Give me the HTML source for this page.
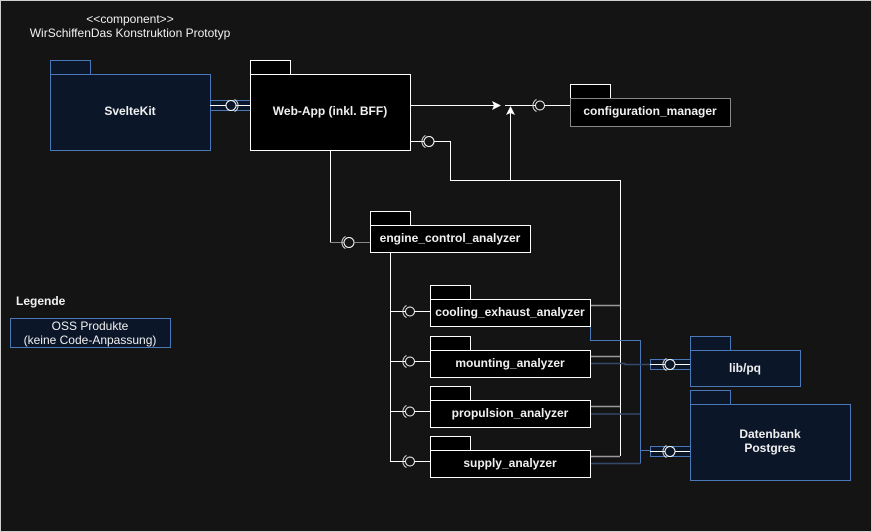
<!DOCTYPE html>
<html><head><meta charset="utf-8"><style>
html,body{margin:0;padding:0;background:#141414}
svg{display:block}
text{font-family:"Liberation Sans",sans-serif;fill:#f0f0f0}
.b{font-weight:bold;font-size:12px}
</style></head><body>
<svg width="872" height="532" viewBox="0 0 872 532" xmlns="http://www.w3.org/2000/svg">
<rect x="0.5" y="0.5" width="871" height="531" fill="#141414" stroke="#cfcfcf"/>
<text x="130" y="23" text-anchor="middle" font-size="12">&lt;&lt;component&gt;&gt;</text>
<text x="130" y="37" text-anchor="middle" font-size="12">WirSchiffenDas Konstruktion Prototyp</text>

<!-- SvelteKit -->
<rect x="50.5" y="60.5" width="40" height="14" fill="#0b1629" stroke="#4a78b8"/>
<rect x="50.5" y="74.5" width="160" height="76" fill="#0b1629" stroke="#4a78b8"/>
<text x="130" y="115" text-anchor="middle" class="b">SvelteKit</text>
<rect x="210.5" y="100.5" width="40" height="10" fill="#0b1629" stroke="#4a78b8"/>
<line x1="210" y1="105.5" x2="250" y2="105.5" stroke="#fff"/>
<circle cx="231" cy="105.5" r="5" fill="#0b1629" stroke="#fff"/>
<path d="M234.5 99.4 A7 7 0 0 1 234.5 111.6" fill="none" stroke="#ddd"/>

<!-- Web-App -->
<rect x="250.5" y="60.5" width="40" height="14" fill="#000" stroke="#fff"/>
<rect x="250.5" y="74.5" width="160" height="76" fill="#000" stroke="#fff"/>
<text x="330" y="115" text-anchor="middle" class="b">Web-App (inkl. BFF)</text>

<!-- to config -->
<line x1="410" y1="105.5" x2="495" y2="105.5" stroke="#fff"/>
<path d="M501 105.5 L492 101 L494 105.5 L492 110 Z" fill="#fff"/>
<line x1="505" y1="105.5" x2="535" y2="105.5" stroke="#fff"/>
<circle cx="540" cy="105.5" r="4.5" fill="none" stroke="#fff"/>
<path d="M536.5 99.4 A7 7 0 0 0 536.5 111.6" fill="none" stroke="#ddd"/>
<line x1="544" y1="105.5" x2="570" y2="105.5" stroke="#fff"/>
<line x1="510.5" y1="180" x2="510.5" y2="112" stroke="#fff"/>
<path d="M510.5 106 L506 115 L510.5 113 L515 115 Z" fill="#fff"/>

<!-- config_manager -->
<rect x="570.5" y="84.5" width="40" height="14" fill="#000" stroke="#fff"/>
<rect x="570.5" y="98.5" width="160" height="28" fill="#000" stroke="#888"/>
<text x="650" y="115" text-anchor="middle" class="b">configuration_manager</text>

<!-- Web-App to right bus -->
<line x1="410" y1="141.5" x2="424" y2="141.5" stroke="#fff"/>
<circle cx="429" cy="141.5" r="5" fill="none" stroke="#fff"/>
<path d="M425.5 135.4 A7 7 0 0 0 425.5 147.6" fill="none" stroke="#ddd"/>
<polyline points="434,141.5 450.5,141.5 450.5,180.5 620.5,180.5 620.5,456" fill="none" stroke="#fff"/>

<!-- Web-App to engine -->
<polyline points="330.5,150 330.5,242.5 344,242.5" fill="none" stroke="#fff"/>
<line x1="330" y1="242.5" x2="344" y2="242.5" stroke="#888"/>
<circle cx="349" cy="242.5" r="5" fill="none" stroke="#fff"/>
<path d="M345.5 236.4 A7 7 0 0 0 345.5 248.6" fill="none" stroke="#ddd"/>
<line x1="354" y1="242.5" x2="370" y2="242.5" stroke="#888"/>

<!-- engine_control_analyzer -->
<rect x="370.5" y="211.5" width="40" height="14" fill="#000" stroke="#fff"/>
<rect x="370.5" y="225.5" width="160" height="27" fill="#000" stroke="#fff"/>
<text x="450" y="242" text-anchor="middle" class="b">engine_control_analyzer</text>

<!-- left bus -->
<line x1="390.5" y1="252" x2="390.5" y2="461.5" stroke="#fff"/>
<g stroke="#fff" fill="none">
<line x1="390" y1="311.5" x2="405" y2="311.5"/><circle cx="410" cy="311.5" r="4.5"/><path d="M406.5 305.4 A7 7 0 0 0 406.5 317.6" stroke="#ddd"/><line x1="415" y1="311.5" x2="430" y2="311.5"/>
<line x1="390" y1="361.5" x2="405" y2="361.5"/><circle cx="410" cy="361.5" r="4.5"/><path d="M406.5 355.4 A7 7 0 0 0 406.5 367.6" stroke="#ddd"/><line x1="415" y1="361.5" x2="430" y2="361.5"/>
<line x1="390" y1="411.5" x2="405" y2="411.5"/><circle cx="410" cy="411.5" r="4.5"/><path d="M406.5 405.4 A7 7 0 0 0 406.5 417.6" stroke="#ddd"/><line x1="415" y1="411.5" x2="430" y2="411.5"/>
<line x1="390" y1="461.5" x2="405" y2="461.5"/><circle cx="410" cy="461.5" r="4.5"/><path d="M406.5 455.4 A7 7 0 0 0 406.5 467.6" stroke="#ddd"/><line x1="415" y1="461.5" x2="430" y2="461.5"/>
</g>

<!-- gray stubs -->
<g stroke="#999" stroke-width="1.5">
<line x1="590" y1="305.5" x2="620" y2="305.5"/>
<line x1="590" y1="356.5" x2="620" y2="356.5"/>
<line x1="590" y1="406.5" x2="620" y2="406.5"/>
<line x1="590" y1="456.5" x2="620" y2="456.5"/>
</g>

<!-- blue links -->
<g fill="none">
<polyline points="590.5,326 590.5,340.5 640.5,340.5 640.5,463.5" stroke="#4a78b8"/>
<polyline points="590,363.5 625,363.5 625,364.5 650,364.5" stroke="#34486a" stroke-width="1.5"/>
<line x1="590" y1="414" x2="640" y2="414" stroke="#34486a" stroke-width="1.5"/>
<line x1="590" y1="463.5" x2="640" y2="463.5" stroke="#34486a" stroke-width="1.5"/>
<line x1="640" y1="450.5" x2="650" y2="450.5" stroke="#4a78b8"/>
</g>

<!-- analyzers -->
<g>
<rect x="430.5" y="285.5" width="40" height="14" fill="#000" stroke="#fff"/>
<rect x="430.5" y="299.5" width="160" height="27" fill="#000" stroke="#fff"/>
<text x="510" y="316" text-anchor="middle" class="b">cooling_exhaust_analyzer</text>
<rect x="430.5" y="336.5" width="40" height="14" fill="#000" stroke="#fff"/>
<rect x="430.5" y="350.5" width="160" height="27" fill="#000" stroke="#fff"/>
<text x="510" y="367" text-anchor="middle" class="b">mounting_analyzer</text>
<rect x="430.5" y="386.5" width="40" height="14" fill="#000" stroke="#fff"/>
<rect x="430.5" y="400.5" width="160" height="27" fill="#000" stroke="#fff"/>
<text x="510" y="417" text-anchor="middle" class="b">propulsion_analyzer</text>
<rect x="430.5" y="436.5" width="40" height="14" fill="#000" stroke="#fff"/>
<rect x="430.5" y="450.5" width="160" height="27" fill="#000" stroke="#fff"/>
<text x="510" y="467" text-anchor="middle" class="b">supply_analyzer</text>
</g>

<!-- lib/pq -->
<rect x="650.5" y="359.5" width="40" height="10" fill="#0b1629" stroke="#4a78b8"/>
<line x1="650" y1="364.5" x2="690" y2="364.5" stroke="#fff"/>
<circle cx="670" cy="364.5" r="5" fill="#0b1629" stroke="#fff"/>
<path d="M666.5 358.4 A7 7 0 0 0 666.5 370.6" fill="none" stroke="#ddd"/>
<rect x="690.5" y="336.5" width="40" height="14" fill="#0b1629" stroke="#4a78b8"/>
<rect x="690.5" y="350.5" width="110" height="36" fill="#0b1629" stroke="#4a78b8"/>
<text x="745" y="372" text-anchor="middle" class="b">lib/pq</text>

<!-- Datenbank -->
<rect x="650.5" y="446.5" width="40" height="10" fill="#0b1629" stroke="#4a78b8"/>
<line x1="650" y1="451.5" x2="690" y2="451.5" stroke="#fff"/>
<circle cx="670" cy="451.5" r="5" fill="#0b1629" stroke="#fff"/>
<path d="M666.5 445.4 A7 7 0 0 0 666.5 457.6" fill="none" stroke="#ddd"/>
<rect x="690.5" y="390.5" width="40" height="14" fill="#0b1629" stroke="#4a78b8"/>
<rect x="690.5" y="404.5" width="160" height="76" fill="#0b1629" stroke="#4a78b8"/>
<text x="770" y="438" text-anchor="middle" class="b">Datenbank</text>
<text x="770" y="452" text-anchor="middle" class="b">Postgres</text>

<!-- legend -->
<text x="16" y="305" class="b">Legende</text>
<rect x="10.5" y="318.5" width="160" height="29" fill="#0b1629" stroke="#4a78b8"/>
<text x="90" y="330" text-anchor="middle" font-size="12">OSS Produkte</text>
<text x="90" y="344" text-anchor="middle" font-size="12">(keine Code-Anpassung)</text>
</svg>
</body></html>
